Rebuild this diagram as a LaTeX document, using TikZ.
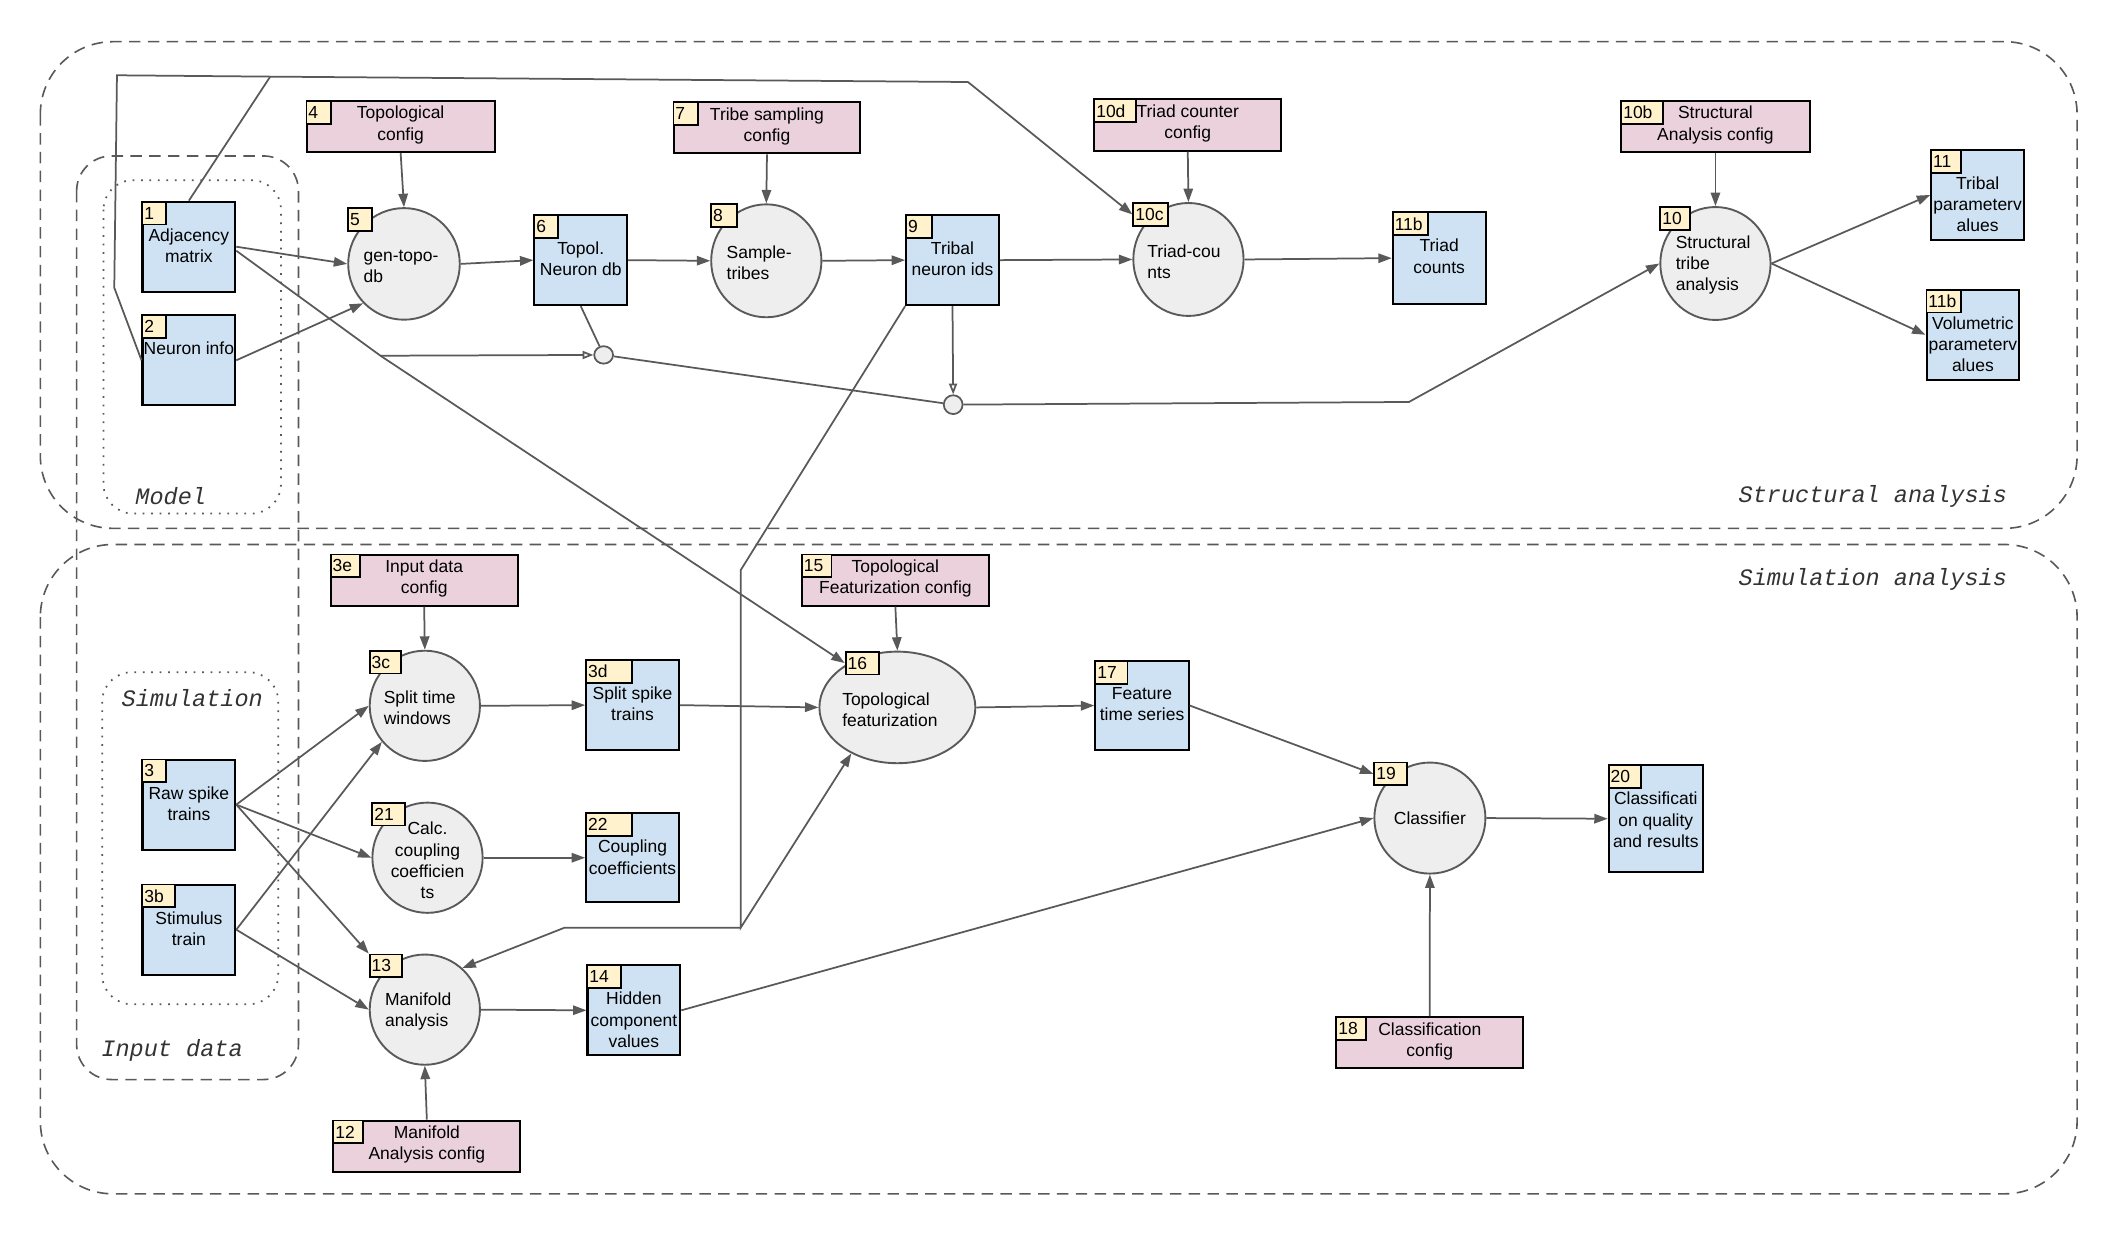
\documentclass[tikz,border=0pt]{standalone}
\usepackage{fontspec}
\setmainfont{Liberation Sans}
\setmonofont{Liberation Mono}
\usetikzlibrary{arrows.meta,shapes.geometric,calc}
\definecolor{blueF}{HTML}{CFE2F3}
\definecolor{pinkF}{HTML}{EAD1DC}
\definecolor{yelF}{HTML}{FFF2CC}
\definecolor{ellF}{HTML}{EEEEEE}
\definecolor{lineC}{HTML}{595959}
\definecolor{lblC}{HTML}{333333}
\newcommand\dnode[8]{%
  \node[databox, minimum width=#4pt, minimum height=#5pt] (#1) at (#2,#3) {};
  \node[numbox=#6pt] (#1k) at (#1.north west) {#7};
  \node[btxt] (#1t) at ([yshift=-20.5pt]#1.north) {#8};
}
\newcommand\cnode[7]{%
  \node[cfgbox, minimum width=#4pt] (#1) at (#2,#3) {};
  \node[numbox=#5pt] (#1k) at (#1.north west) {#6};
  \node[ctxt] (#1t) at ([yshift=1pt]#1.center) {#7};
}
\begin{document}
\begin{tikzpicture}[x=1pt,y=-1pt,
  every node/.style={font=\fontsize{13}{15.8}\selectfont},
  databox/.style={draw=black, line width=1.5pt, fill=blueF, inner sep=0pt},
  cfgbox/.style={draw=black, line width=1.5pt, fill=pinkF, inner sep=0pt, minimum height=38pt},
  proc/.style={ellipse, draw=lineC, line width=1.4pt, fill=ellF, inner sep=0pt},
  numbox/.style={draw=black, line width=1.4pt, fill=yelF, text width={#1-3pt}, align=left,
     inner xsep=1.5pt, inner ysep=0pt, minimum height=17pt, anchor=north west},
  btxt/.style={anchor=north, align=center, inner sep=0pt},
  ctxt/.style={align=center, inner sep=0pt},
  ltxt/.style={anchor=west, align=left, inner sep=0pt},
  etxt/.style={align=center, inner sep=0pt},
  smallc/.style={ellipse, draw=lineC, line width=1.3pt, fill=ellF, inner sep=0pt, minimum width=14pt, minimum height=13pt},
  conn/.style={draw=lineC, line width=1.3pt},
  arr/.style={conn, -{Triangle[length=10pt,width=7pt]}},
  oarr/.style={conn, -{Triangle[open,length=8pt,width=6pt]}},
  dashbox/.style={draw=lineC, line width=1.2pt, dash pattern=on 8.5pt off 5.5pt},
  dotbox/.style={draw=lineC, line width=1.3pt, dash pattern=on 1.3pt off 5pt},
  lbl/.style={font=\ttfamily\itshape\fontsize{17.5}{20}\selectfont, text=lblC, inner sep=0pt}
]
\useasboundingbox (0,0) rectangle (1568,918);

% ---------- region frames ----------
\draw[dashbox, rounded corners=54pt] (30,31) rectangle (1545,393);
\draw[dashbox, rounded corners=54pt] (30,405) rectangle (1545,888);
\draw[dashbox, rounded corners=26pt] (57,116) rectangle (222,803);
\draw[dotbox, rounded corners=22pt] (77,134) rectangle (209,382);
\draw[dotbox, rounded corners=22pt] (76,500) rectangle (207,747);

\node[lbl] (lmodel) at (127,369) {Model};
\node[lbl] (lsim) at (143,519) {Simulation};
\node[lbl] (linput) at (128,781) {Input data};
\node[lbl, anchor=east] (lstruct) at (1493,369) {Structural analysis};
\node[lbl, anchor=east] (lsiman) at (1493,431) {Simulation analysis};

% ---------- data boxes ----------
\dnode{n1}{140.5}{183.5}{69}{67}{17.5}{1}{Adjacency\\matrix}
\dnode{n2}{140.5}{268}{69}{67}{17.5}{2}{Neuron info}
\dnode{n6}{432}{193.5}{69}{67}{17.5}{6}{Topol.\\Neuron db}
\dnode{n9}{708.5}{193.5}{69}{67}{19}{9}{Tribal\\neuron ids}
\dnode{n11b}{1070.5}{192}{69}{68}{26}{11b}{Triad\\counts}
\dnode{n11}{1471}{145}{69}{67}{22}{11}{Tribal\\parameterv\\alues}
\dnode{n11c}{1467.5}{249}{69}{67}{26}{11b}{Volumetric\\parameterv\\alues}
\dnode{n3d}{470.5}{524.5}{69}{67}{34}{3d}{Split spike\\trains}
\dnode{n22}{470.5}{638}{69}{66}{34}{22}{Coupling\\coefficients}
\dnode{n3}{140.5}{598.5}{69}{67}{17.5}{3}{Raw spike\\trains}
\dnode{n3b}{140.5}{691.5}{69}{67}{24}{3b}{Stimulus\\train}
\dnode{n14}{471.5}{751.5}{69}{67}{25}{14}{Hidden\\component\\values}
\dnode{n17}{849.5}{524.8}{69.5}{66.5}{24}{17}{Feature\\time series}
\dnode{n20}{1231.6}{609}{70}{79.4}{24}{20}{Classificati\\on quality\\and results}

% ---------- config boxes ----------
\cnode{n4}{298}{94}{140}{18}{4}{Topological\\config}
\cnode{n7}{570.5}{95}{139}{18}{7}{Tribe sampling\\config}
\cnode{n10d}{883.5}{93}{139}{31}{10d}{Triad counter\\config}
\cnode{n10b}{1276}{94}{140}{31}{10b}{Structural\\Analysis config}
\cnode{n3e}{315.5}{431.5}{139}{22}{3e}{Input data\\config}
\cnode{n15}{666}{431.5}{139}{22}{15}{Topological\\Featurization config}
\cnode{n12}{317.5}{852.5}{139}{22}{12}{Manifold\\Analysis config}
\cnode{n18}{1063.5}{775.5}{139}{22}{18}{Classification\\config}

% ---------- processes ----------
\node[proc, minimum width=83pt, minimum height=83pt] (n5) at (300.5,196.3) {};
\node[numbox=18pt] (n5k) at (n5.west |- n5.north) {5};
\node[ltxt] (n5t) at ([xshift=12pt,yshift=-2pt]n5.west) {gen-topo-\\db};

\node[proc, minimum width=82pt, minimum height=84pt] (n8) at (570,194) {};
\node[numbox=19pt] (n8k) at (n8.west |- n8.north) {8};
\node[ltxt] (n8t) at ([xshift=12pt,yshift=-1.5pt]n8.west) {Sample-\\tribes};

\node[proc, minimum width=82pt, minimum height=84pt] (n10c) at (884,193) {};
\node[numbox=26pt] (n10ck) at (n10c.west |- n10c.north) {10c};
\node[ltxt] (n10ct) at ([xshift=11pt,yshift=-1.5pt]n10c.west) {Triad-cou\\nts};

\node[proc, minimum width=82pt, minimum height=84pt] (n10) at (1276,196) {};
\node[numbox=22pt] (n10k) at (n10.west |- n10.north) {10};
\node[ltxt] (n10t) at ([xshift=12pt,yshift=-1pt]n10.west) {Structural\\tribe\\analysis};

\node[proc, minimum width=82pt, minimum height=82pt] (n3c) at (316,525) {};
\node[numbox=23pt] (n3ck) at (n3c.west |- n3c.north) {3c};
\node[ltxt] (n3ct) at ([xshift=11pt,yshift=-1.5pt]n3c.west) {Split time\\windows};

\node[proc, minimum width=82pt, minimum height=82pt] (n21) at (318,638) {};
\node[numbox=24pt] (n21k) at (n21.west |- n21.north) {21};
\node[etxt] (n21t) at ([yshift=-2pt]n21.center) {Calc.\\coupling\\coefficien\\ts};

\node[proc, minimum width=82pt, minimum height=82pt] (n13) at (316,751) {};
\node[numbox=24pt] (n13k) at (n13.west |- n13.north) {13};
\node[ltxt] (n13t) at ([xshift=12pt,yshift=-1.5pt]n13.west) {Manifold\\analysis};

\node[proc, minimum width=116pt, minimum height=83pt] (n16) at (667.5,526.2) {};
\node[numbox=24.5pt] (n16k) at ([xshift=19.5pt]n16.west |- n16.north) {16};
\node[ltxt] (n16t) at ([xshift=17.5pt,yshift=-1.5pt]n16.west) {Topological\\featurization};

\node[proc, minimum width=82.6pt, minimum height=82.6pt] (n19) at (1063.6,608.5) {};
\node[numbox=24.5pt] (n19k) at (n19.west |- n19.north) {19};
\node[etxt] (n19t) at (n19.center) {Classifier};

% small junction circles
\node[smallc] (c1) at (449,264) {};
\node[smallc, minimum width=14pt, minimum height=14pt] (c2) at (709,301) {};

% ---------- connectors: structural ----------
\draw[arr] (n1.east) -- (n5.west);
\draw[arr] (n2.east) -- (n5.224);
\draw[arr] (n4.south) -- (n5.north);
\draw[arr] (n5.east) -- (n6.west);
\draw[arr] (n6.east) -- (n8.west);
\draw[arr] (n7.south) -- (n8.north);
\draw[arr] (n8.east) -- (n9.west);
\draw[arr] (n9.east) -- (n10c.west);
\draw[arr] (n10d.south) -- (n10c.north);
\draw[arr] (n10c.east) -- (n11b.west);
\draw[arr] (n10b.south) -- (n10.north);
\draw[arr] (n10.east) -- (n11.west);
\draw[arr] (n10.east) -- (n11c.west);

\coordinate (t1) at (201,57);
\coordinate (t2) at (720,61);
\coordinate (t3) at (87,56);
\coordinate (t4) at (85,214);
\draw[arr] (n1.north) -- (t1) -- (t2) -- (n10ck.west);
\draw[conn] (n2.west) -- (t4) -- (t3) -- (t1);

\coordinate (b1) at (283,264.6);
\draw[arr] ([yshift=-3pt]n1.east) -- (b1) -- (n16k.west);
\draw[oarr] (b1) -- (c1);
\draw[conn] (n6.south) -- (c1);
\draw[conn] (c1) -- (c2);
\draw[oarr] (n9.south) -- (c2.north);
\coordinate (h1) at (1048,299);
\draw[arr] (c2) -- (h1) -- (n10.west);

\coordinate (v1) at (551,424);
\coordinate (v2) at (551,690);
\coordinate (v3) at (420,690);
\draw[arr] (n9.south west) -- (v1) -- (v2) -- (n16.225);
\draw[arr] (v2) -- (v3) -- (n13.48);

% ---------- connectors: simulation ----------
\draw[arr] (n3e.south) -- (n3c.north);
\draw[arr] (n3.east) -- (n3c.west);
\draw[arr] (n3.east) -- (n21.west);
\draw[arr] (n3.east) -- (n13k.north west);
\draw[arr] (n3b.east) -- (n3c.220);
\draw[arr] (n3b.east) -- (n13.west);
\draw[arr] (n3c.east) -- (n3d.west);
\draw[arr] (n21.east) -- (n22.west);
\draw[arr] (n13.east) -- (n14.west);
\draw[arr] (n12.north) -- (n13.south);
\draw[arr] (n3d.east) -- (n16.west);
\draw[arr] (n15.south) -- (n16.north);
\draw[arr] (n16.east) -- (n17.west);
\draw[arr] (n17.east) -- (n19k.west);
\draw[arr] (n14.east) -- (n19.west);
\draw[arr] (n18.north) -- (n19.south);
\draw[arr] (n19.east) -- (n20.west);
\end{tikzpicture}
\end{document}
